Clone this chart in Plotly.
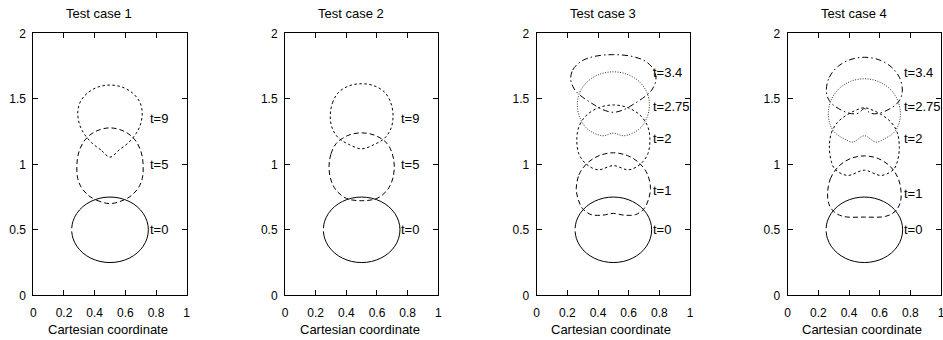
import plotly.graph_objects as go

# ---------------- data ----------------
x_ticks = [0, 0.2, 0.4, 0.6, 0.8, 1]
x_tick_labels = ["0", "0.2", "0.4", "0.6", "0.8", "1"]
y_ticks = [0, 0.5, 1, 1.5, 2]
y_tick_labels = ["0", "0.5", "1", "1.5", "2"]

panel_titles = ["Test case 1", "Test case 2", "Test case 3", "Test case 4"]
x_axis_title = "Cartesian coordinate"

# t=0 initial bubble (same in every case)
t0_x = [0.2503, 0.2585, 0.2835, 0.3232, 0.375, 0.4353, 0.5, 0.5647, 0.625, 0.6768, 0.7165, 0.7415,
        0.75, 0.7415, 0.7165, 0.6768, 0.625, 0.5647, 0.5, 0.4353, 0.375, 0.3232, 0.2835, 0.2585, 0.2503]
t0_y = [0.488, 0.4353, 0.375, 0.3232, 0.2835, 0.2585, 0.25, 0.2585, 0.2835, 0.3232, 0.375, 0.4353,
        0.5, 0.5647, 0.625, 0.6768, 0.7165, 0.7415, 0.75, 0.7415, 0.7165, 0.6768, 0.625, 0.5647, 0.512]

# Test case 1
c1_t5_x = [0.5, 0.435, 0.37, 0.318, 0.29, 0.284, 0.298, 0.337, 0.402, 0.5, 0.598, 0.663, 0.702, 0.716, 0.71, 0.682, 0.63, 0.565, 0.5]
c1_t5_y = [0.70, 0.716, 0.753, 0.815, 0.89, 0.995, 1.097, 1.186, 1.249, 1.278, 1.249, 1.186, 1.097, 0.995, 0.89, 0.815, 0.753, 0.716, 0.70]
c1_t9_x = [0.5, 0.44, 0.38, 0.33, 0.30, 0.29, 0.306, 0.352, 0.42, 0.5, 0.58, 0.648, 0.694, 0.71, 0.70, 0.67, 0.62, 0.56, 0.5]
c1_t9_y = [1.055, 1.11, 1.165, 1.235, 1.31, 1.40, 1.475, 1.543, 1.589, 1.605, 1.589, 1.543, 1.475, 1.40, 1.31, 1.235, 1.165, 1.11, 1.055]

# Test case 2
c2_t5_x = [0.287, 0.30, 0.335, 0.41, 0.5, 0.59, 0.665, 0.70, 0.713, 0.70, 0.665, 0.6, 0.5, 0.4, 0.335, 0.30, 0.287]
c2_t5_y = [0.98, 1.08, 1.16, 1.22, 1.24, 1.22, 1.16, 1.08, 0.98, 0.88, 0.80, 0.74, 0.722, 0.74, 0.80, 0.88, 0.98]
c2_t9_x = [0.295, 0.31, 0.35, 0.42, 0.5, 0.58, 0.65, 0.69, 0.705, 0.69, 0.65, 0.58, 0.5, 0.42, 0.35, 0.31, 0.295]
c2_t9_y = [1.365, 1.47, 1.55, 1.60, 1.615, 1.60, 1.55, 1.47, 1.365, 1.27, 1.20, 1.15, 1.118, 1.15, 1.20, 1.27, 1.365]

# Test case 3
c3_t1_x = [0.258, 0.276, 0.329, 0.407, 0.5, 0.593, 0.671, 0.724, 0.742, 0.73, 0.70, 0.645, 0.57, 0.5, 0.43, 0.355, 0.30, 0.27, 0.258]
c3_t1_y = [0.817, 0.92, 1.008, 1.066, 1.088, 1.066, 1.008, 0.92, 0.817, 0.735, 0.66, 0.616, 0.612, 0.625, 0.612, 0.616, 0.66, 0.735, 0.817]
c3_t2_x = [0.262, 0.281, 0.332, 0.409, 0.5, 0.591, 0.668, 0.719, 0.738, 0.725, 0.675, 0.60, 0.5, 0.40, 0.325, 0.275, 0.262]
c3_t2_y = [1.205, 1.303, 1.382, 1.434, 1.453, 1.434, 1.382, 1.303, 1.205, 1.08, 1.0, 0.958, 0.99, 0.958, 1.0, 1.08, 1.205]
c3_t275_x = [0.265, 0.283, 0.334, 0.41, 0.5, 0.59, 0.666, 0.717, 0.735, 0.72, 0.67, 0.57, 0.5, 0.43, 0.33, 0.28, 0.265]
c3_t275_y = [1.46, 1.554, 1.634, 1.687, 1.706, 1.687, 1.634, 1.554, 1.46, 1.36, 1.27, 1.218, 1.238, 1.218, 1.27, 1.36, 1.46]
c3_t34_x = [0.222, 0.235, 0.29, 0.378, 0.5, 0.622, 0.71, 0.765, 0.778, 0.755, 0.72, 0.644, 0.568, 0.5, 0.432, 0.356, 0.28, 0.245, 0.222]
c3_t34_y = [1.645, 1.72, 1.786, 1.824, 1.837, 1.824, 1.786, 1.72, 1.645, 1.575, 1.53, 1.468, 1.417, 1.397, 1.417, 1.468, 1.53, 1.575, 1.645]

# Test case 4
c4_t1_x = [0.26, 0.278, 0.33, 0.408, 0.5, 0.592, 0.67, 0.722, 0.74, 0.732, 0.70, 0.64, 0.5, 0.36, 0.30, 0.268, 0.26]
c4_t1_y = [0.78, 0.889, 0.982, 1.043, 1.064, 1.043, 0.982, 0.889, 0.78, 0.70, 0.64, 0.603, 0.597, 0.603, 0.64, 0.70, 0.78]
c4_t2_x = [0.272, 0.285, 0.325, 0.39, 0.45, 0.5, 0.55, 0.61, 0.675, 0.715, 0.728, 0.715, 0.69, 0.61, 0.5, 0.39, 0.31, 0.285, 0.272]
c4_t2_y = [1.13, 1.24, 1.32, 1.38, 1.415, 1.432, 1.415, 1.38, 1.32, 1.24, 1.13, 1.02, 0.96, 0.915, 0.955, 0.915, 0.96, 1.02, 1.13]
c4_t275_x = [0.265, 0.283, 0.334, 0.41, 0.5, 0.59, 0.666, 0.717, 0.735, 0.725, 0.695, 0.64, 0.575, 0.5, 0.425, 0.36, 0.305, 0.275, 0.265]
c4_t275_y = [1.39, 1.49, 1.576, 1.633, 1.653, 1.633, 1.576, 1.49, 1.39, 1.31, 1.245, 1.20, 1.17, 1.218, 1.17, 1.20, 1.245, 1.31, 1.39]
c4_t34_x = [0.252, 0.271, 0.325, 0.405, 0.5, 0.595, 0.675, 0.729, 0.748, 0.735, 0.70, 0.60, 0.54, 0.5, 0.46, 0.40, 0.30, 0.265, 0.252]
c4_t34_y = [1.567, 1.663, 1.744, 1.798, 1.817, 1.798, 1.744, 1.663, 1.567, 1.50, 1.45, 1.39, 1.39, 1.425, 1.39, 1.39, 1.45, 1.50, 1.567]

# curve labels
c12_labels = ["t=0", "t=5", "t=9"]
c12_label_y = [0.5, 1.0, 1.35]
c3_labels = ["t=0", "t=1", "t=2", "t=2.75", "t=3.4"]
c3_label_y = [0.5, 0.80, 1.20, 1.44, 1.70]
c4_labels = ["t=0", "t=1", "t=2", "t=2.75", "t=3.4"]
c4_label_y = [0.5, 0.78, 1.20, 1.44, 1.70]
label_x = 0.745

# ---------------- styles ----------------
FONT = "Liberation Sans, Arial, Helvetica, sans-serif"
SOLID = dict(color="black", width=1, dash="solid")
DASHED = dict(color="black", width=1, dash="5px,3px")
SHORT = dict(color="black", width=1, dash="2.5px,2.5px")
DOTTED = dict(color="#333333", width=1, dash="1px,1.5px")
DASHDOT = dict(color="black", width=1, dash="6px,3px,1.5px,3px")

panels = [
    [(t0_x, t0_y, SOLID), (c1_t5_x, c1_t5_y, DASHED), (c1_t9_x, c1_t9_y, SHORT)],
    [(t0_x, t0_y, SOLID), (c2_t5_x, c2_t5_y, DASHED), (c2_t9_x, c2_t9_y, SHORT)],
    [(t0_x, t0_y, SOLID), (c3_t1_x, c3_t1_y, DASHED), (c3_t2_x, c3_t2_y, SHORT),
     (c3_t275_x, c3_t275_y, DOTTED), (c3_t34_x, c3_t34_y, DASHDOT)],
    [(t0_x, t0_y, SOLID), (c4_t1_x, c4_t1_y, DASHED), (c4_t2_x, c4_t2_y, SHORT),
     (c4_t275_x, c4_t275_y, DOTTED), (c4_t34_x, c4_t34_y, DASHDOT)],
]
panel_labels = [(c12_labels, c12_label_y), (c12_labels, c12_label_y),
                (c3_labels, c3_label_y), (c4_labels, c4_label_y)]

W, H = 943, 340
x_dom_px = [(33.3, 186.7), (285.0, 438.3), (536.7, 690.0), (787.7, 941.0)]
y_dom = [(H - 295.3) / H, (H - 33.3) / H]

fig = go.Figure()
annotations = []
for i, curves in enumerate(panels):
    n = i + 1
    xa = "x" if n == 1 else f"x{n}"
    ya = "y" if n == 1 else f"y{n}"
    for cx, cy, st in curves:
        fig.add_trace(go.Scatter(x=cx, y=cy, mode="lines", line=dict(shape="spline", smoothing=1, **st),
                                 xaxis=xa, yaxis=ya, showlegend=False, hoverinfo="skip", cliponaxis=False))
    texts, ys = panel_labels[i]
    for t, yv in zip(texts, ys):
        annotations.append(dict(x=label_x, y=yv, xref=xa, yref=ya, text=t, showarrow=False,
                                xanchor="left", yanchor="middle", font=dict(family=FONT, size=13, color="black")))
    annotations.append(dict(x=0.5 - 10.5 / 153.3, y=(H - 13.5) / H, xref=f"{xa} domain", yref="paper",
                            text=panel_titles[i], showarrow=False, xanchor="center", yanchor="middle",
                            font=dict(family=FONT, size=13, color="black")))
    annotations.append(dict(x=0.5 - 2 / 153.3, y=(H - 329) / H, xref=f"{xa} domain", yref="paper",
                            text=x_axis_title, showarrow=False, xanchor="center", yanchor="middle",
                            font=dict(family=FONT, size=13, color="black")))
    axis_common = dict(showline=True, linecolor="black", linewidth=1, mirror="ticks", ticks="inside",
                       ticklen=5, tickwidth=1, tickcolor="black", showgrid=False, zeroline=False,
                       automargin=False, ticklabeloverflow="allow",
                       tickfont=dict(family=FONT, size=12, color="black"), fixedrange=True)
    fig.layout[f"xaxis{'' if n == 1 else n}"] = dict(
        domain=[x_dom_px[i][0] / W, x_dom_px[i][1] / W], range=[0, 1], anchor=ya,
        tickvals=x_ticks, ticktext=x_tick_labels, ticklabelstandoff=6, **axis_common)
    fig.layout[f"yaxis{'' if n == 1 else n}"] = dict(
        domain=y_dom, range=[0, 2], anchor=xa,
        tickvals=y_ticks, ticktext=y_tick_labels, ticklabelstandoff=4, **axis_common)

fig.update_layout(width=W, height=H, autosize=False,
                  margin=dict(l=0, r=0, t=0, b=0, pad=0, autoexpand=False),
                  paper_bgcolor="white", plot_bgcolor="white", annotations=annotations,
                  showlegend=False)
fig.write_html("out.html", config={"displayModeBar": False},
               post_script="document.body.style.margin='0px';document.body.style.padding='0px';document.body.style.overflow='hidden';")
